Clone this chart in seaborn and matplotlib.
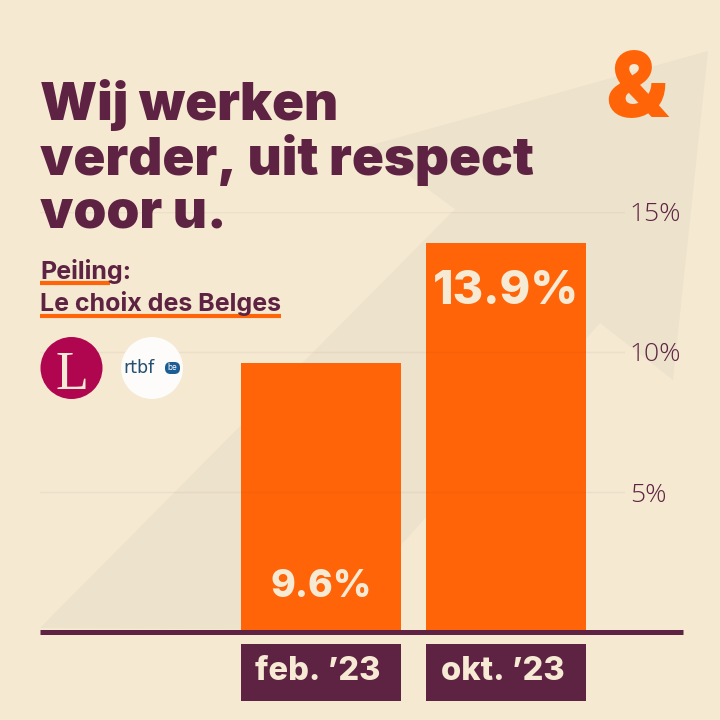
import matplotlib.pyplot as plt
import matplotlib.patches as mpatches
import matplotlib.transforms as mtrans
import pandas as pd
import seaborn as sns

# Colours
BG = '#F5E9D2'
ARROW = '#EDE2CC'
ORANGE = '#FF6508'
PLUM = '#5E2342'
CREAM = '#F6EAD4'
HEAD_FONT = ['Inter', 'DejaVu Sans']
BODY_FONT = ['Open Sans', 'DejaVu Sans']

# Data
months = ['feb. ’23', 'okt. ’23']
scores = [9.6, 13.9]
score_labels = ['9.6%', '13.9%']
y_ticks = [5, 10, 15]
y_tick_labels = ['5%', '10%', '15%']

title = 'Wij werken\nverder, uit respect\nvoor u.'
poll_lines = ['Peiling:', 'Le choix des Belges']

df = pd.DataFrame({'month': months, 'score': scores})

sns.set_theme(style='white')
plt.rcParams['font.family'] = HEAD_FONT

fig = plt.figure(figsize=(7.2, 7.2), dpi=100, facecolor=BG)

# Background layer in pixel coordinates, for the arrow
deco = fig.add_axes([0, 0, 1, 1])
deco.set_xlim(0, 720)
deco.set_ylim(720, 0)
deco.axis('off')

arrow_outline = [(708, 51), (368, 146), (455, 209), (40, 628), (325, 630),
                 (600, 323), (673, 380)]
deco.add_patch(mpatches.Polygon(arrow_outline, closed=True, fc=ARROW, ec='none'))

# Main chart: x runs 40-625 px, y=0 sits at 632 px and y=15 at 212 px
ax = fig.add_axes([40 / 720, (720 - 632) / 720, 585 / 720, 420 / 720])
ax.patch.set_alpha(0)
sns.barplot(data=df, x='month', y='score', color=ORANGE, saturation=1,
            width=160 / 185, linewidth=0, ax=ax, zorder=2)
ax.set_xlim((40 - 321) / 185, (625 - 321) / 185)
ax.set_ylim(0, 15)
ax.set_xlabel('')
ax.set_ylabel('')
sns.despine(ax=ax, left=True, bottom=True, right=True, top=True)

# Gridlines and tick labels
ax.yaxis.tick_right()
ax.set_yticks(y_ticks)
ax.set_yticklabels(y_tick_labels, fontsize=19, family=BODY_FONT, fontweight='light', color=PLUM)
ax.tick_params(axis='y', length=0, pad=3.5)
ax.yaxis.grid(True, color=PLUM, alpha=0.05, lw=1)
ax.set_axisbelow(False)

# Month labels on plum boxes below the axis
ax.bar([0, 1], [-2.03, -2.03], bottom=-0.43, width=160 / 185, color=PLUM,
       linewidth=0, clip_on=False, zorder=2)
ax.set_xticks([0, 1])
ax.set_xticklabels(months, fontsize=23.5, fontweight='heavy', color=CREAM)
ax.tick_params(axis='x', length=0, pad=17)
nudge = mtrans.ScaledTranslation(-3.5 / 100, 0, fig.dpi_scale_trans)
for lab in ax.get_xticklabels():
    lab.set_zorder(5)
    lab.set_transform(lab.get_transform() + nudge)

# Value labels inside the bars
ax.text(1, 12.15, score_labels[1], ha='center', va='center', fontsize=33.5,
        fontweight='heavy', color=CREAM, zorder=5)
ax.text(0, 1.6, score_labels[0], ha='center', va='center', fontsize=27,
        fontweight='heavy', color=CREAM, zorder=5)

# Thick baseline, wider than the gridlines
top = fig.add_axes([0, 0, 1, 1])
top.set_xlim(0, 720)
top.set_ylim(720, 0)
top.axis('off')
top.patch.set_alpha(0)
top.plot([40, 683], [632, 632], color=PLUM, lw=3.6, solid_capstyle='butt')

# Headline and logo
top.text(40, 227, title, fontsize=38, fontweight='black', color=PLUM,
         ha='left', va='baseline', linespacing=1.08)
top.text(637, 117, '&', fontsize=65, fontweight='black', color=ORANGE,
         ha='center', va='baseline')

# Poll credit with its orange underlines
top.plot([40, 110], [283, 283], color=ORANGE, lw=3, solid_capstyle='butt')
top.plot([40, 281], [316, 316], color=ORANGE, lw=3, solid_capstyle='butt')
top.text(40, 279, poll_lines[0], fontsize=18, fontweight='bold', color=PLUM,
         ha='left', va='baseline')
top.text(40, 311, poll_lines[1], fontsize=18, fontweight='bold', color=PLUM,
         ha='left', va='baseline')

# Media logos
top.add_patch(mpatches.Circle((71.5, 368), 31, fc='#B0064F', ec='none'))
top.text(72, 389, 'L', fontsize=39, family='Liberation Serif', color=CREAM,
         ha='center', va='baseline')
top.add_patch(mpatches.Circle((152, 368), 31, fc='#FDFCFA', ec='none'))
top.text(123, 373, 'rtbf', fontsize=12.5, family='DejaVu Sans', color='#23506F',
         ha='left', va='baseline')
top.add_patch(mpatches.FancyBboxPatch((165, 362), 15, 12, boxstyle='round,pad=0,rounding_size=5.5',
                                      fc='#1C5E94', ec='none'))
top.text(172.5, 368, 'be', fontsize=6, color='white', ha='center', va='center')

fig.savefig('out.png', dpi=100, facecolor=BG)
